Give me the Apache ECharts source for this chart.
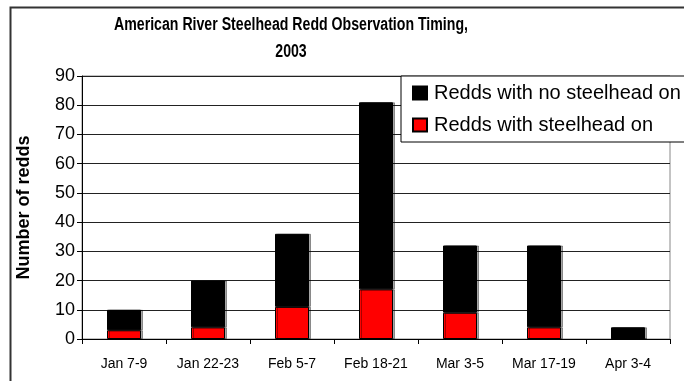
<!DOCTYPE html>
<html>
<head>
<meta charset="utf-8">
<script src="https://cdn.jsdelivr.net/npm/echarts@6/dist/echarts.min.js"></script>
<style>
  html, body { margin: 0; padding: 0; background: #fff; }
  #chart { width: 684px; height: 381px; }
</style>
</head>
<body>
<div id="chart"></div>
<script>
// Survey periods (x axis)
const categories = ['Jan 7-9', 'Jan 22-23', 'Feb 5-7', 'Feb 18-21', 'Mar 3-5', 'Mar 17-19', 'Apr 3-4'];
// Redds with steelhead observed on them (bottom of each stack)
const withSteelhead = [3, 4, 11, 17, 9, 4, 0];
// Redds with no steelhead on them (top of each stack)
const noSteelhead = [7, 16, 25, 64, 23, 28, 4];
// Value axis ticks
const yTicks = [0, 10, 20, 30, 40, 50, 60, 70, 80, 90];
// Chart heading, two lines
const titleLines = ['American River Steelhead Redd Observation Timing,', '2003'];

const seriesNames = ['Redds with no steelhead on', 'Redds with steelhead on'];
const FONT = '"Liberation Sans", Arial, Helvetica, sans-serif';

const chart = echarts.init(document.getElementById('chart'), null, { renderer: 'canvas' });

const barStyle = (color) => ({
  color: color,
  borderColor: '#000',
  borderWidth: 1,
  shadowColor: 'rgba(0,0,0,0.35)',
  shadowOffsetX: 2,
  shadowOffsetY: 0,
  shadowBlur: 0
});

// Condensed bold heading lines
const titleText = (text, y) => ({
  type: 'text',
  x: 291,
  y: y,
  scaleX: 0.785,
  silent: true,
  style: {
    text: text,
    font: 'bold 18px ' + FONT,
    fill: '#000',
    textAlign: 'center',
    textVerticalAlign: 'middle'
  }
});

chart.setOption({
  animation: false,
  backgroundColor: '#fff',
  textStyle: { fontFamily: FONT },
  legend: {
    data: seriesNames,
    orient: 'vertical',
    left: 401,
    top: 76,
    padding: [7, 40, 7, 11],
    itemGap: 12,
    itemWidth: 14,
    itemHeight: 13,
    icon: 'rect',
    backgroundColor: '#fff',
    borderColor: '#000',
    borderWidth: 1,
    textStyle: { fontFamily: FONT, fontSize: 20, color: '#000', padding: [0, 0, 0, 2] }
  },
  grid: {
    left: 82,
    right: 14,
    top: 76,
    bottom: 42,
    show: true,
    borderColor: '#888',
    borderWidth: 1,
    backgroundColor: '#fff'
  },
  xAxis: {
    type: 'category',
    data: categories,
    boundaryGap: true,
    axisLine: { show: true, lineStyle: { color: '#000', width: 1 } },
    axisTick: { show: true, alignWithLabel: false, length: 5, lineStyle: { color: '#000' } },
    axisLabel: { fontFamily: FONT, fontSize: 14, color: '#000', margin: 18 }
  },
  yAxis: {
    type: 'value',
    min: yTicks[0],
    max: yTicks[yTicks.length - 1],
    interval: yTicks[1] - yTicks[0],
    name: 'Number of redds',
    nameLocation: 'middle',
    nameGap: 49,
    nameTextStyle: { fontFamily: FONT, fontSize: 18, fontWeight: 'bold', color: '#000' },
    axisLine: { show: true, lineStyle: { color: '#000', width: 1 } },
    axisTick: { show: true, length: 5, lineStyle: { color: '#000' } },
    axisLabel: { fontFamily: FONT, fontSize: 18, color: '#000', margin: 7 },
    splitLine: { show: true, lineStyle: { color: '#222', width: 1 } }
  },
  series: [
    {
      name: seriesNames[1],
      type: 'bar',
      stack: 'redds',
      barWidth: 34,
      data: withSteelhead,
      itemStyle: barStyle('#ff0000')
    },
    {
      name: seriesNames[0],
      type: 'bar',
      stack: 'redds',
      barWidth: 34,
      data: noSteelhead,
      itemStyle: barStyle('#000000')
    }
  ],
  graphic: [
    titleText(titleLines[0], 25),
    titleText(titleLines[1], 52),
    {
      type: 'rect',
      left: 8,
      top: 5,
      shape: { x: 0, y: 0, width: 700, height: 400 },
      style: { fill: 'none', stroke: '#333', lineWidth: 2 },
      z: 100,
      silent: true
    }
  ]
});
</script>
</body>
</html>
